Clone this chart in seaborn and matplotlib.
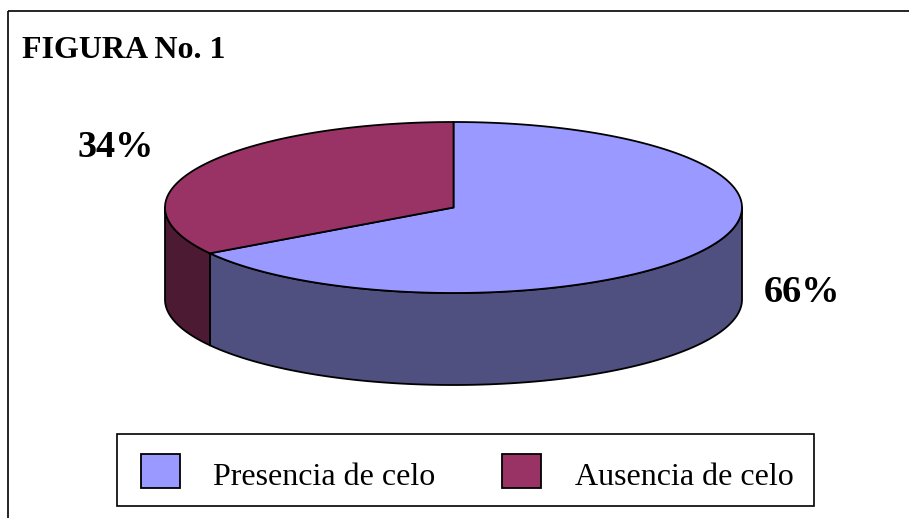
import numpy as np
import matplotlib
matplotlib.use("Agg")
import matplotlib.pyplot as plt
import seaborn as sns
from matplotlib.patches import Polygon, Rectangle

# ---- data ----
categories = ["Presencia de celo", "Ausencia de celo"]
values = [66, 34]
pct_labels = ["66%", "34%"]
title = "FIGURA No. 1"

top_colors = ["#9999FF", "#993366"]
side_colors = ["#4F4F80", "#4D1A33"]

sns.set_theme(style="white")
plt.rcParams['font.family'] = ['Liberation Serif', 'DejaVu Serif']
plt.rcParams['text.color'] = 'black'

fig = plt.figure(figsize=(9.09, 5.18), dpi=100)
ax = fig.add_axes([0, 0, 1, 1])
ax.set_xlim(0, 909)
ax.set_ylim(518, 0)
ax.axis("off")

# frame
ax.plot([8, 909], [11, 11], color="black", lw=1.2, solid_capstyle="butt")
ax.plot([8, 8], [11, 518], color="black", lw=1.2, solid_capstyle="butt")

# pie geometry (pixel space)
cx, cy = 453.5, 207.5
a, b = 288.5, 85.5
depth = 92.0

def pt(theta_deg, dy=0.0):
    t = np.deg2rad(theta_deg)
    return cx + a * np.cos(t), cy - b * np.sin(t) + dy

total = float(sum(values))
fracs = np.array(values) / total
cum = np.concatenate([[0], np.cumsum(fracs)])
slices = []
for i in range(len(values)):
    start = 90 - cum[i + 1] * 360
    end = 90 - cum[i] * 360
    slices.append((start, end))

# side faces (front half: -180..0 degrees)
for i, (s, e) in enumerate(slices):
    lo, hi = max(s, -180), min(e, 0)
    if hi > lo:
        th = np.linspace(lo, hi, 200)
        xs, ys = pt(th)
        xb, yb = pt(th[::-1], depth)
        poly = np.column_stack([np.concatenate([xs, xb]), np.concatenate([ys, yb])])
        ax.add_patch(Polygon(poly, closed=True, facecolor=side_colors[i],
                             edgecolor="black", lw=1.3, joinstyle="round"))

# top faces
for i, (s, e) in enumerate(slices):
    th = np.linspace(s, e, 300)
    xs, ys = pt(th)
    poly = np.column_stack([np.concatenate([[cx], xs]), np.concatenate([[cy], ys])])
    ax.add_patch(Polygon(poly, closed=True, facecolor=top_colors[i],
                         edgecolor="black", lw=1.3, joinstyle="round"))

# texts
ax.text(22, 58, title, fontsize=23, fontweight="bold", ha="left", va="baseline", color="black")
ax.text(802, 302, pct_labels[0], fontsize=27.5, fontweight="bold", ha="center", va="baseline", color="black")
ax.text(116, 157, pct_labels[1], fontsize=27.5, fontweight="bold", ha="center", va="baseline", color="black")

# legend box
ax.add_patch(Rectangle((117, 434), 697, 72, facecolor="white", edgecolor="black", lw=1.2))
sq_x = [141, 502]
txt_x = [213, 575]
for i in range(len(categories)):
    ax.add_patch(Rectangle((sq_x[i], 454), 39, 34, facecolor=top_colors[i],
                           edgecolor="black", lw=1.3))
    ax.text(txt_x[i], 485, categories[i], fontsize=23, ha="left", va="baseline", color="black")

fig.savefig("out.png", dpi=100)
